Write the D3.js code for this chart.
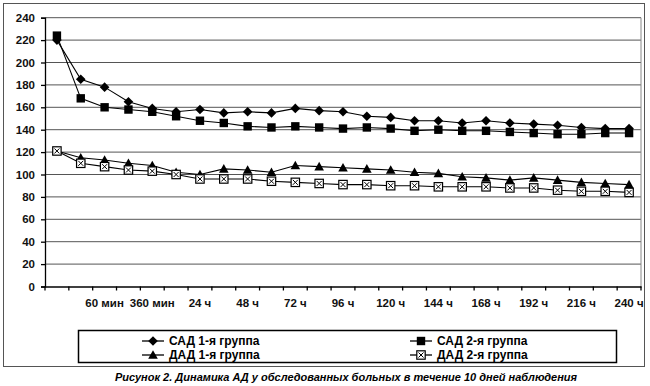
<!DOCTYPE html>
<html>
<head>
<meta charset="utf-8">
<script src="https://cdn.jsdelivr.net/npm/d3@7"></script>
<style>
  body { margin: 0; background: #fff; }
  svg { display: block; font-family: "Liberation Sans", Arial, sans-serif; }
  .axis text { font-size: 11.5px; font-weight: bold; fill: #111; }
</style>
</head>
<body>
<svg id="chart" width="650" height="386"></svg>
<script>
// Tick labels (Excel shows every other category; the rest are unreadable)
const tickLabels = ["", "", "60 мин", "", "360 мин", "", "24 ч", "", "48 ч", "", "72 ч", "",
  "96 ч", "", "120 ч", "", "144 ч", "", "168 ч", "", "192 ч", "", "216 ч", "", "240 ч"];
const yTicks = [0, 20, 40, 60, 80, 100, 120, 140, 160, 180, 200, 220, 240];

// Series values
const sad1 = [220, 185, 178, 165, 159, 156, 158, 155, 156, 155, 159, 157, 156, 152, 151, 148,
  148, 146, 148, 146, 145, 144, 142, 141, 141];
const sad2 = [224, 168, 160, 158, 156, 152, 148, 146, 143, 142, 143, 142, 141, 142, 141, 139,
  140, 139, 139, 138, 137, 136, 136, 137, 137];
const dad1 = [121, 115, 113, 110, 108, 102, 100, 105, 104, 102, 108, 107, 106, 105, 104, 102,
  101, 98, 97, 95, 97, 95, 93, 92, 91];
const dad2 = [121, 110, 107, 104, 103, 100, 96, 96, 96, 94, 93, 92, 91, 91, 90, 90,
  89, 89, 89, 88, 88, 86, 85, 85, 84];

const seriesNames = ["САД 1-я группа", "САД 2-я группа", "ДАД 1-я группа", "ДАД 2-я группа"];
const seriesData = [sad1, sad2, dad1, dad2];
const seriesMarkers = ["diamond", "square", "triangle", "xbox"];

const svg = d3.select("#chart");
const plot = { left: 45, right: 641, top: 17.7, bottom: 286.5 };

const x = d3.scaleBand()
  .domain(d3.range(tickLabels.length))
  .range([plot.left, plot.right])
  .padding(0);
const y = d3.scaleLinear().domain([0, 240]).range([plot.bottom, plot.top]);

// outer frame
svg.append("rect")
  .attr("x", 3.5).attr("y", 3.5)
  .attr("width", 641).attr("height", 363)
  .attr("fill", "none").attr("stroke", "#555").attr("stroke-width", 1);

// gridlines
svg.append("g")
  .selectAll("line")
  .data(yTicks.filter(d => d > 0))
  .join("line")
    .attr("x1", plot.left).attr("x2", plot.right)
    .attr("y1", d => y(d)).attr("y2", d => y(d))
    .attr("stroke", "#555").attr("stroke-width", 1);

// right border of plot area
svg.append("line")
  .attr("x1", plot.right).attr("x2", plot.right)
  .attr("y1", plot.top).attr("y2", plot.bottom)
  .attr("stroke", "#888");

// Y axis
svg.append("g")
  .attr("class", "axis")
  .attr("transform", `translate(${plot.left},0)`)
  .call(d3.axisLeft(y).tickValues(yTicks).tickSize(4).tickPadding(6))
  .call(g => g.selectAll("path, line").attr("stroke", "#000").attr("stroke-width", 1.3));

// X axis: labels at category centers, ticks at category boundaries
const xAxis = svg.append("g")
  .attr("class", "axis")
  .attr("transform", `translate(0,${plot.bottom})`)
  .call(d3.axisBottom(x)
    .tickValues(d3.range(0, tickLabels.length, 2))
    .tickFormat(i => tickLabels[i])
    .tickSize(0).tickPadding(12).tickSizeOuter(0))
  .call(g => g.select(".domain").attr("stroke", "#000").attr("stroke-width", 1.3));

xAxis.selectAll(".boundary")
  .data(d3.range(tickLabels.length + 1))
  .join("line")
    .attr("class", "boundary")
    .attr("x1", i => i < tickLabels.length ? x(i) : plot.right)
    .attr("x2", i => i < tickLabels.length ? x(i) : plot.right)
    .attr("y1", 0).attr("y2", 4)
    .attr("stroke", "#000").attr("stroke-width", 1.3);

// marker drawing
function drawMarker(sel, type) {
  if (type === "diamond") {
    sel.append("path").attr("d", "M0,-4.8L4.8,0L0,4.8L-4.8,0Z").attr("fill", "#000");
  } else if (type === "square") {
    sel.append("rect").attr("x", -4.2).attr("y", -4.2).attr("width", 8.4).attr("height", 8.4).attr("fill", "#000");
  } else if (type === "triangle") {
    sel.append("path").attr("d", "M0,-4.8L4.8,3.8L-4.8,3.8Z").attr("fill", "#000");
  } else {
    sel.append("rect").attr("x", -4.2).attr("y", -4.2).attr("width", 8.4).attr("height", 8.4)
      .attr("fill", "#fff").attr("stroke", "#000").attr("stroke-width", 1.2);
    sel.append("path").attr("d", "M-2.5,-2.5L2.5,2.5M2.5,-2.5L-2.5,2.5")
      .attr("stroke", "#000").attr("stroke-width", 1);
  }
}

const line = d3.line()
  .x((d, i) => x(i) + x.bandwidth() / 2)
  .y(d => y(d));

seriesData.forEach((values, s) => {
  svg.append("path")
    .datum(values)
    .attr("fill", "none")
    .attr("stroke", "#000")
    .attr("stroke-width", 1.1)
    .attr("d", line);

  svg.append("g")
    .selectAll("g")
    .data(values)
    .join("g")
      .attr("transform", (d, i) => `translate(${x(i) + x.bandwidth() / 2},${y(d)})`)
      .each(function () { drawMarker(d3.select(this), seriesMarkers[s]); });
});

// legend
svg.append("rect")
  .attr("x", 78.5).attr("y", 330.5)
  .attr("width", 538).attr("height", 32)
  .attr("fill", "#fff").attr("stroke", "#000").attr("stroke-width", 1.5);

const legendPos = [[142, 341], [410, 341], [142, 355], [410, 355]];
seriesNames.forEach((name, s) => {
  const [lx, ly] = legendPos[s];
  const item = svg.append("g").attr("transform", `translate(${lx},${ly})`);
  item.append("line").attr("x1", 0).attr("x2", 22).attr("stroke", "#000").attr("stroke-width", 1.3);
  drawMarker(item.append("g").attr("transform", "translate(11,0)"), seriesMarkers[s]);
  item.append("text")
    .attr("x", 27).attr("dy", "0.35em")
    .style("font-size", "12px").style("font-weight", "bold")
    .text(name);
});

// caption
svg.append("text")
  .attr("x", 346).attr("y", 381)
  .attr("text-anchor", "middle")
  .style("font-size", "11px").style("font-weight", "bold").style("font-style", "italic")
  .text("Рисунок 2. Динамика АД у обследованных больных в течение 10 дней наблюдения");
</script>
</body>
</html>
